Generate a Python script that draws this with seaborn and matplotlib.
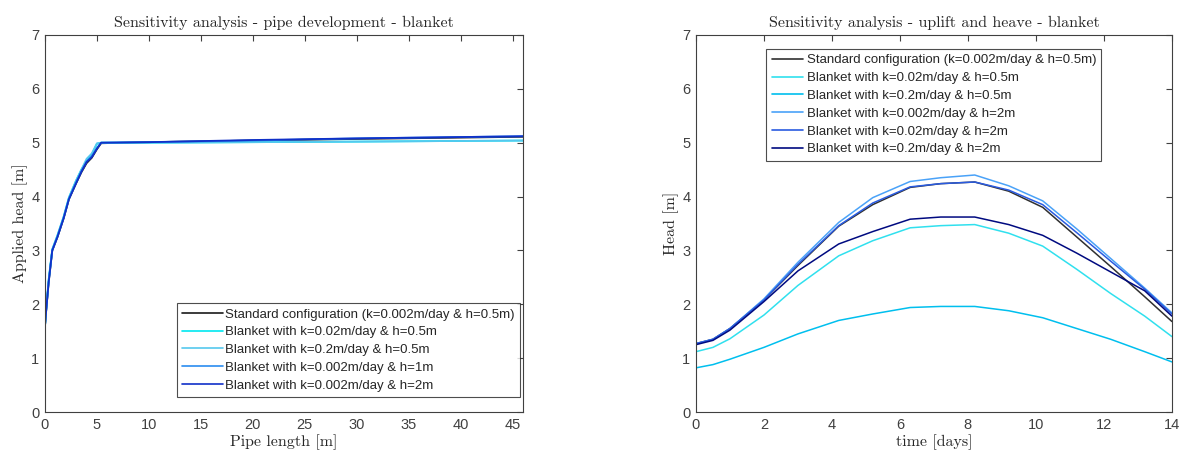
import matplotlib
matplotlib.use("Agg")
import matplotlib.pyplot as plt
import seaborn as sns
import numpy as np
import pandas as pd

# --- left panel: pipe development ---
pipe_labels = [
    "Standard configuration (k=0.002m/day & h=0.5m)",
    "Blanket with k=0.02m/day & h=0.5m",
    "Blanket with k=0.2m/day & h=0.5m",
    "Blanket with k=0.002m/day & h=1m",
    "Blanket with k=0.002m/day & h=2m",
]
pipe_colors = ["#1a1a1a", "#00e8f0", "#55c8ee", "#2a8cf0", "#1030c8"]

pipe_x = [0, 0.1, 0.35, 0.7, 1.2, 1.8, 2.3, 3.0, 3.5, 4.0, 4.5, 5.0, 5.4, 10, 20, 30, 46]
pipe_std = [1.6, 1.85, 2.4, 3.0, 3.25, 3.6, 3.95, 4.25, 4.45, 4.62, 4.72, 4.88, 4.99, 5.01, 5.04, 5.07, 5.11]
pipe_k002_h05 = [1.6, 1.87, 2.45, 3.02, 3.28, 3.63, 3.98, 4.3, 4.5, 4.66, 4.78, 4.98, 5.0, 5.0, 5.01, 5.02, 5.04]
pipe_k02_h05 = [1.6, 1.87, 2.45, 3.02, 3.28, 3.63, 3.98, 4.3, 4.5, 4.7, 4.8, 4.99, 5.0, 5.0, 5.01, 5.02, 5.04]
pipe_k0002_h1 = [1.6, 1.86, 2.42, 3.0, 3.26, 3.61, 3.96, 4.27, 4.47, 4.65, 4.75, 4.9, 5.0, 5.01, 5.04, 5.08, 5.12]
pipe_k0002_h2 = [1.6, 1.85, 2.4, 3.0, 3.25, 3.6, 3.95, 4.25, 4.46, 4.64, 4.73, 4.89, 5.0, 5.01, 5.05, 5.08, 5.12]

# --- right panel: uplift and heave ---
heave_labels = [
    "Standard configuration (k=0.002m/day & h=0.5m)",
    "Blanket with k=0.02m/day & h=0.5m",
    "Blanket with k=0.2m/day & h=0.5m",
    "Blanket with k=0.002m/day & h=2m",
    "Blanket with k=0.02m/day & h=2m",
    "Blanket with k=0.2m/day & h=2m",
]
heave_colors = ["#303030", "#30e0ee", "#00bfee", "#4aa2f8", "#2a5be0", "#000a80"]

time_days = [0, 0.5, 1, 2, 3, 4.2, 5.2, 6.3, 7.2, 8.2, 9.2, 10.2, 11.2, 12.2, 13.2, 14]
heave_std = [1.27, 1.35, 1.55, 2.08, 2.72, 3.45, 3.85, 4.17, 4.24, 4.27, 4.1, 3.8, 3.25, 2.7, 2.14, 1.68]
heave_k002_h05 = [1.12, 1.2, 1.36, 1.8, 2.35, 2.9, 3.18, 3.42, 3.46, 3.48, 3.32, 3.08, 2.65, 2.2, 1.78, 1.4]
heave_k02_h05 = [0.82, 0.88, 0.98, 1.2, 1.45, 1.7, 1.82, 1.94, 1.96, 1.96, 1.88, 1.75, 1.55, 1.35, 1.12, 0.93]
heave_k0002_h2 = [1.27, 1.35, 1.55, 2.1, 2.78, 3.52, 3.98, 4.28, 4.35, 4.4, 4.2, 3.92, 3.4, 2.85, 2.3, 1.84]
heave_k002_h2 = [1.27, 1.35, 1.55, 2.08, 2.74, 3.46, 3.88, 4.18, 4.24, 4.27, 4.12, 3.85, 3.33, 2.8, 2.28, 1.82]
heave_k02_h2 = [1.25, 1.33, 1.52, 2.05, 2.62, 3.12, 3.35, 3.58, 3.62, 3.62, 3.48, 3.28, 2.95, 2.6, 2.25, 1.78]


def to_long(x, series, labels, xname, yname):
    frames = []
    for lab, vals in zip(labels, series):
        frames.append(pd.DataFrame({xname: x, yname: vals, "case": lab}))
    return pd.concat(frames, ignore_index=True)


pipe_df = to_long(pipe_x, [pipe_std, pipe_k002_h05, pipe_k02_h05, pipe_k0002_h1, pipe_k0002_h2],
                  pipe_labels, "length", "head")
heave_df = to_long(time_days, [heave_std, heave_k002_h05, heave_k02_h05, heave_k0002_h2, heave_k002_h2, heave_k02_h2],
                   heave_labels, "time", "head")

sns.set_style("white")
plt.rcParams["font.family"] = ["Liberation Sans", "DejaVu Sans"]
axcol = "#404040"
serif = ["cmr10", "DejaVu Serif"]

fig = plt.figure(figsize=(11.84, 4.55), dpi=100)
ax0 = fig.add_axes([0.038, 0.0945, 0.4037, 0.8286])
ax1 = fig.add_axes([0.5878, 0.0945, 0.402, 0.8286])

sns.lineplot(data=pipe_df, x="length", y="head", hue="case", palette=pipe_colors,
             hue_order=pipe_labels, sort=False, estimator=None, lw=1.3, ax=ax0)
sns.lineplot(data=heave_df, x="time", y="head", hue="case", palette=heave_colors,
             hue_order=heave_labels, sort=False, estimator=None, lw=1.1, ax=ax1)

ax0.set_xlim(0, 46)
ax0.set_xticks(np.arange(0, 46, 5))
ax1.set_xlim(0, 14)
ax1.set_xticks(np.arange(0, 15, 2))
for ax in (ax0, ax1):
    ax.set_ylim(0, 7)
    ax.set_yticks(range(8))
    ax.tick_params(direction="in", top=True, right=True, length=4, width=0.8,
                   colors=axcol, labelsize=10.5, pad=4)
    for s in ax.spines.values():
        s.set_color(axcol)
        s.set_linewidth(0.8)

ax0.set_title("Sensitivity analysis - pipe development - blanket", family=serif, fontsize=11.5, pad=6)
ax0.set_xlabel("Pipe length [m]", family=serif, fontsize=11.5, labelpad=2)
ax0.set_ylabel("Applied head [m]", family=serif, fontsize=11.5, labelpad=2)
ax1.set_title("Sensitivity analysis - uplift and heave - blanket", family=serif, fontsize=11.5, pad=6)
ax1.set_xlabel("time [days]", family=serif, fontsize=11.5, labelpad=2)
ax1.set_ylabel("Head [m]", family=serif, fontsize=11.5, labelpad=2)

leg0 = ax0.legend(loc="lower right", bbox_to_anchor=(0.993, 0.04), fontsize=9.5, frameon=True,
                  fancybox=False, handlelength=3.1, handletextpad=0.15, borderpad=0.4,
                  labelspacing=0.42, borderaxespad=0)
leg1 = ax1.legend(loc="upper center", bbox_to_anchor=(0.5, 0.963), fontsize=9.5, frameon=True,
                  fancybox=False, handlelength=2.35, handletextpad=0.3, borderpad=0.4,
                  labelspacing=0.42, borderaxespad=0)
for leg in (leg0, leg1):
    leg.get_frame().set_edgecolor("#202020")
    leg.get_frame().set_linewidth(0.8)
    for line in leg.get_lines():
        line.set_linewidth(1.2)

fig.savefig("out.png", dpi=100)
